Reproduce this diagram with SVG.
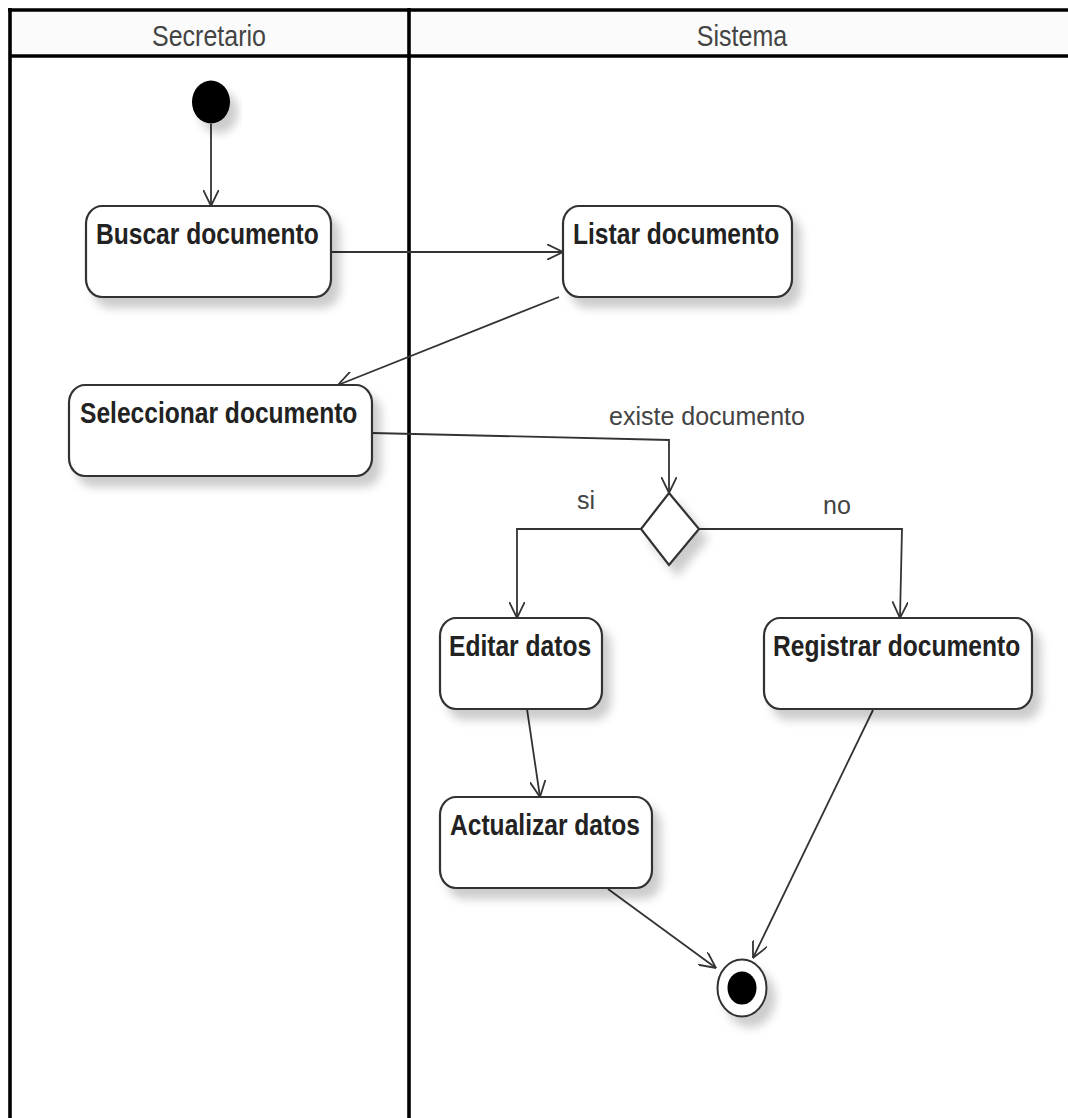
<svg xmlns="http://www.w3.org/2000/svg" width="1068" height="1118" viewBox="0 0 1068 1118">
  <style>
    .lane { fill: none; stroke: #000; stroke-width: 3.6; }
    .lane-title { font-family: "Liberation Sans", Arial, sans-serif; font-size: 25px; fill: #444; text-anchor: middle; }
    .act { fill: #fff; stroke: #333; stroke-width: 2.2; filter: url(#shadow); }
    .act-label { font-family: "Liberation Sans", Arial, sans-serif; font-size: 24.6px; font-weight: bold; fill: #222; }
    .guard { font-family: "Liberation Sans", Arial, sans-serif; font-size: 25px; fill: #444; }
    .flow { fill: none; stroke: #333; stroke-width: 1.8; marker-end: url(#open-arrow); }
  </style>
  <defs>
    <filter id="shadow" x="-20%" y="-20%" width="150%" height="170%">
      <feDropShadow dx="8" dy="10" stdDeviation="5" flood-color="#000" flood-opacity="0.2"/>
    </filter>
    <marker id="open-arrow" viewBox="0 0 17 16" refX="16.5" refY="8" markerWidth="17" markerHeight="16" markerUnits="userSpaceOnUse" orient="auto">
      <path d="M0,0 L16.5,8 L0,16" fill="none" stroke="#333" stroke-width="1.8"/>
    </marker>
  </defs>

  <rect width="1068" height="1118" fill="#fff"/>

  <!-- swimlane frame -->
  <g id="lanes">
    <rect x="10" y="10" width="1400" height="46" fill="#fbfbfb"/>
    <line class="lane" x1="8" y1="10" x2="1068" y2="10"/>
    <line class="lane" x1="10" y1="56" x2="1068" y2="56"/>
    <line class="lane" x1="10" y1="8" x2="10" y2="1118"/>
    <line class="lane" x1="409" y1="8" x2="409" y2="1118"/>
    <text class="lane-title" transform="translate(209,46) scale(1,1.18)">Secretario</text>
    <text class="lane-title" transform="translate(742,46) scale(1,1.18)">Sistema</text>
  </g>

  <!-- connectors -->
  <g id="connectors">
    <line class="flow" x1="211" y1="124" x2="211" y2="206"/>
    <line class="flow" x1="331" y1="252" x2="563" y2="252"/>
    <line class="flow" x1="559" y1="297" x2="338" y2="385"/>
    <polyline class="flow" points="372,433 669,440 669,493"/>
    <polyline class="flow" points="641,529 517,529 517,618"/>
    <polyline class="flow" points="699,529 902,529 900,618"/>
    <line class="flow" x1="527" y1="709" x2="540" y2="797"/>
    <line class="flow" x1="608" y1="889" x2="716" y2="968"/>
    <line class="flow" x1="873" y1="710" x2="753" y2="958"/>
    <text class="guard" x="609" y="425">existe documento</text>
    <text class="guard" x="577" y="509">si</text>
    <text class="guard" x="823" y="514">no</text>
  </g>

  <!-- initial node -->
  <g id="start">
    <ellipse cx="211" cy="102" rx="19" ry="21.5" fill="#000" filter="url(#shadow)"/>
  </g>

  <g id="buscar">
    <rect class="act" x="86" y="206" width="245" height="91" rx="16" ry="18"/>
    <text class="act-label" transform="translate(96,244) scale(1,1.18)">Buscar documento</text>
  </g>

  <g id="listar">
    <rect class="act" x="563" y="206" width="229" height="91" rx="16" ry="18"/>
    <text class="act-label" transform="translate(573,244) scale(1,1.18)">Listar documento</text>
  </g>

  <g id="seleccionar">
    <rect class="act" x="69" y="385" width="303" height="91" rx="16" ry="18"/>
    <text class="act-label" transform="translate(80,423) scale(1,1.18)">Seleccionar documento</text>
  </g>

  <!-- decision -->
  <g id="decision">
    <polygon class="act" points="669,493 699,529 669,565 641,529" stroke-width="1.8"/>
  </g>

  <g id="editar">
    <rect class="act" x="440" y="618" width="162" height="91" rx="16" ry="18"/>
    <text class="act-label" transform="translate(449,656) scale(1,1.18)">Editar datos</text>
  </g>

  <g id="registrar">
    <rect class="act" x="764" y="618" width="268" height="91" rx="16" ry="18"/>
    <text class="act-label" transform="translate(773,656) scale(1,1.18)">Registrar documento</text>
  </g>

  <g id="actualizar">
    <rect class="act" x="440" y="797" width="212" height="91" rx="16" ry="18"/>
    <text class="act-label" transform="translate(450,835) scale(1,1.18)">Actualizar datos</text>
  </g>

  <!-- final node -->
  <g id="end">
    <ellipse cx="742" cy="988" rx="24.5" ry="28.5" fill="#fff" stroke="#333" stroke-width="2" filter="url(#shadow)"/>
    <ellipse cx="742" cy="988" rx="14.5" ry="16.5" fill="#000"/>
  </g>
</svg>
